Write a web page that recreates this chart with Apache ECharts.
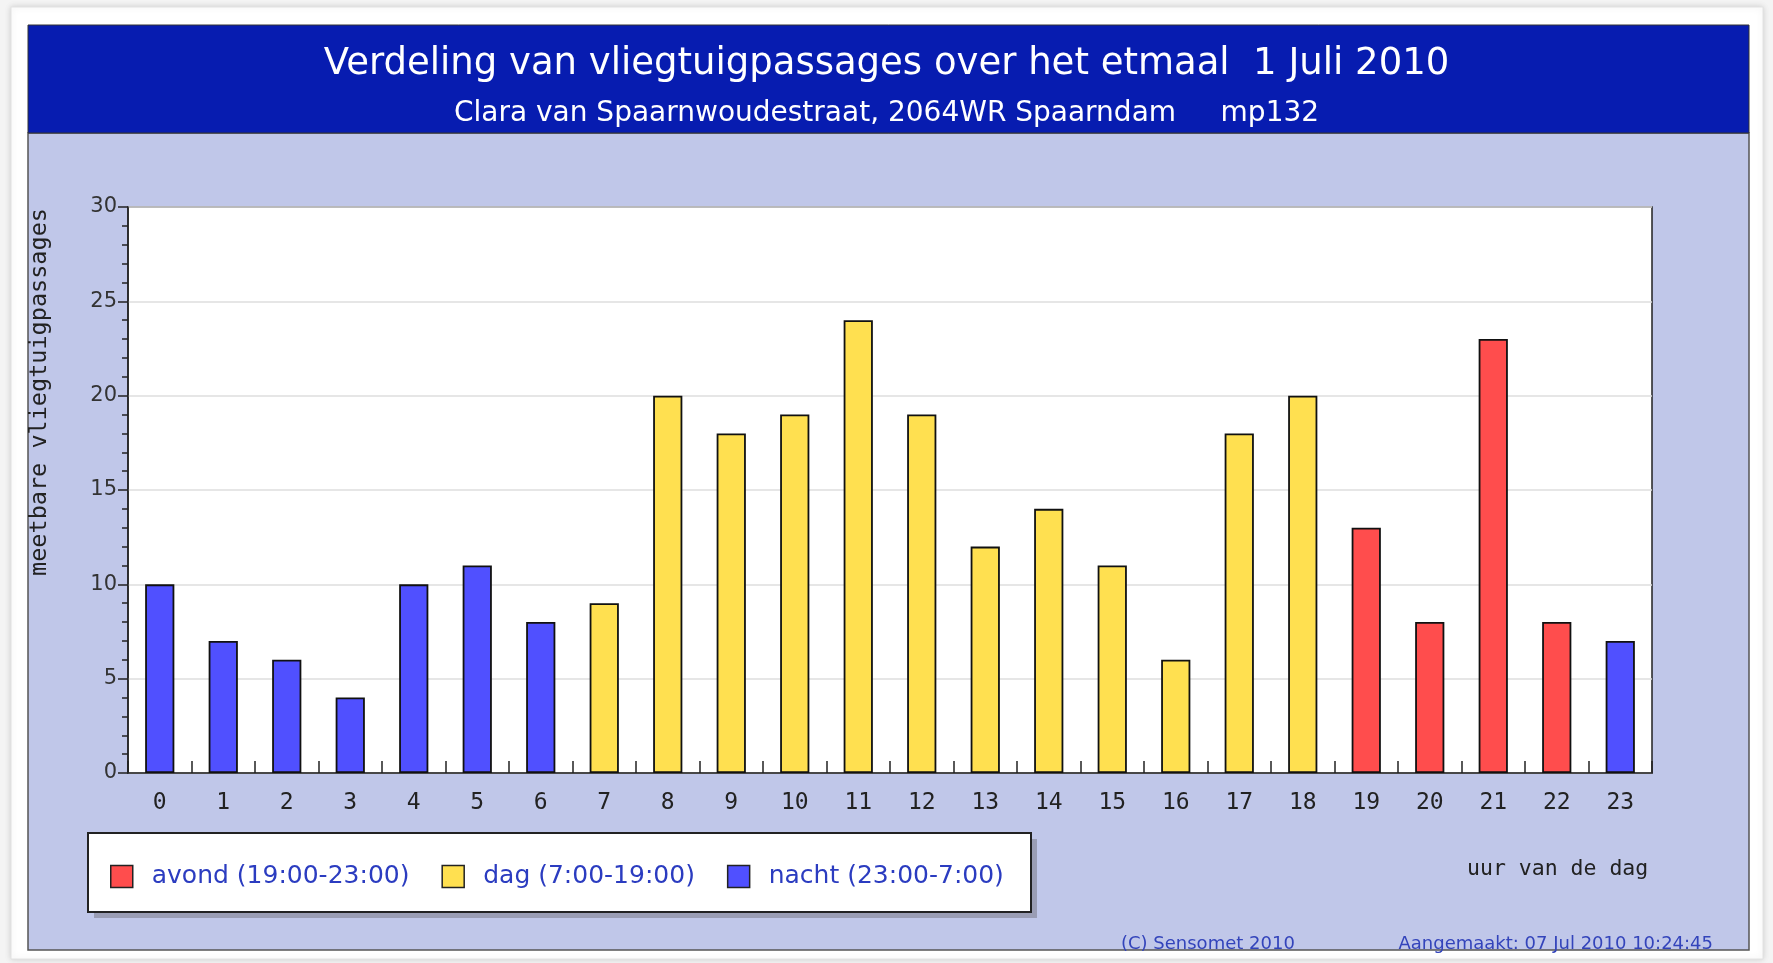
<!DOCTYPE html>
<html>
<head>
<meta charset="utf-8">
<script src="https://cdn.jsdelivr.net/npm/echarts@6/dist/echarts.min.js"></script>
<style>
  html, body { margin: 0; padding: 0; background: #f4f4f4; }
  #chart { width: 1773px; height: 963px; }
</style>
</head>
<body>
<div id="chart"></div>
<script>
// uur van de dag
const hours = ['0', '1', '2', '3', '4', '5', '6', '7', '8', '9', '10', '11',
  '12', '13', '14', '15', '16', '17', '18', '19', '20', '21', '22', '23'];
// meetbare vliegtuigpassages per uur
const passages = [10, 7, 6, 4, 10, 11, 8, 9, 20, 18, 19, 24,
  19, 12, 14, 11, 6, 18, 20, 13, 8, 23, 8, 7];
// periode per uur
const periods = ['nacht', 'nacht', 'nacht', 'nacht', 'nacht', 'nacht', 'nacht',
  'dag', 'dag', 'dag', 'dag', 'dag', 'dag', 'dag', 'dag', 'dag', 'dag', 'dag', 'dag',
  'avond', 'avond', 'avond', 'avond', 'nacht'];
const periodKeys = ['avond', 'dag', 'nacht'];
const periodNames = ['avond (19:00-23:00)', 'dag (7:00-19:00)', 'nacht (23:00-7:00)'];
const periodColors = ['#ff4d4d', '#ffe050', '#5050ff'];
const yTicks = [0, 5, 10, 15, 20, 25, 30];

const chart = echarts.init(document.getElementById('chart'));

const series = periodKeys.map((key, i) => ({
  name: periodNames[i],
  type: 'bar',
  stack: 'uur',
  barWidth: '46%',
  itemStyle: { color: periodColors[i], borderColor: '#111', borderWidth: 1.8 },
  data: passages.map((v, h) => (periods[h] === key ? v : '-'))
}));

const option = {
  animation: false,
  backgroundColor: '#f4f4f4',
  title: [
    {
      text: 'Verdeling van vliegtuigpassages over het etmaal  1 Juli 2010',
      left: 'center', top: 41,
      textStyle: { color: '#fff', fontFamily: 'DejaVu Sans', fontSize: 37, fontWeight: 'normal' }
    },
    {
      text: 'Clara van Spaarnwoudestraat, 2064WR Spaarndam     mp132',
      left: 'center', top: 95,
      textStyle: { color: '#fff', fontFamily: 'DejaVu Sans', fontSize: 28, fontWeight: 'normal' }
    },
    {
      text: '(C) Sensomet 2010',
      left: 1116, top: 930,
      textStyle: { color: '#3344bb', fontFamily: 'DejaVu Sans', fontSize: 18, fontWeight: 'normal' }
    },
    {
      text: 'Aangemaakt: 07 Jul 2010 10:24:45',
      right: 55, top: 930,
      textStyle: { color: '#3344bb', fontFamily: 'DejaVu Sans', fontSize: 18, fontWeight: 'normal' }
    }
  ],
  graphic: [
    { type: 'rect', z: -20, shape: { x: 11, y: 7, width: 1752, height: 952 },
      style: { fill: '#ffffff', stroke: '#e2e2e2', lineWidth: 1, shadowBlur: 6, shadowColor: 'rgba(0,0,0,0.15)' } },
    { type: 'rect', z: -19, shape: { x: 28, y: 133, width: 1721, height: 817 },
      style: { fill: '#c0c7e9', stroke: '#555', lineWidth: 1.5 } },
    { type: 'rect', z: -18, shape: { x: 28, y: 25, width: 1721, height: 108 },
      style: { fill: '#071cb0', stroke: '#333', lineWidth: 1 } },
    // legend box with its shadow
    { type: 'rect', z: 1, shape: { x: 94, y: 839, width: 943, height: 79 },
      style: { fill: '#9a9db4' } },
    { type: 'rect', z: 2, shape: { x: 88, y: 833, width: 943, height: 79 },
      style: { fill: '#fff', stroke: '#222', lineWidth: 2 } },
    { type: 'text', z: 5, left: 1467, top: 858,
      style: { text: 'uur van de dag', fill: '#222', font: '21.5px "DejaVu Sans Mono"' } },
    { type: 'text', z: 5, x: 40, y: 392, rotation: Math.PI / 2,
      style: { text: 'meetbare vliegtuigpassages', fill: '#222', font: '23.5px "DejaVu Sans Mono"',
        align: 'center', verticalAlign: 'middle' } }
  ],
  legend: {
    left: 105, top: 859,
    itemWidth: 22, itemHeight: 22, itemGap: 32,
    icon: 'rect',
    itemStyle: { borderColor: '#222', borderWidth: 1.5 },
    textStyle: { color: '#2b3cc0', fontFamily: 'DejaVu Sans', fontSize: 25, padding: [0, 0, 0, 14] },
    data: periodNames
  },
  grid: {
    left: 128, top: 207, width: 1524, height: 566,
    show: true, backgroundColor: '#fff', borderColor: '#222', borderWidth: 1.5
  },
  xAxis: {
    type: 'category',
    data: hours,
    axisLine: { lineStyle: { color: '#222', width: 1.5 } },
    axisTick: { show: true, interval: 0, inside: true, length: 12, lineStyle: { color: '#222', width: 1.5 } },
    axisLabel: { color: '#222', fontFamily: 'DejaVu Sans Mono', fontSize: 23, margin: 19 }
  },
  yAxis: {
    type: 'value',
    min: yTicks[0], max: yTicks[yTicks.length - 1], interval: 5,
    axisLine: { show: true, lineStyle: { color: '#222', width: 1.5 } },
    axisTick: { show: true, length: 10, lineStyle: { color: '#222', width: 1.5 } },
    minorTick: { show: true, splitNumber: 5, length: 6, lineStyle: { color: '#222', width: 1.5 } },
    axisLabel: { color: '#333', fontFamily: 'DejaVu Sans', fontSize: 21, margin: 11 },
    splitLine: { lineStyle: { color: '#dedede', width: 1.5 } }
  },
  series: series
};

chart.setOption(option);
</script>
</body>
</html>
